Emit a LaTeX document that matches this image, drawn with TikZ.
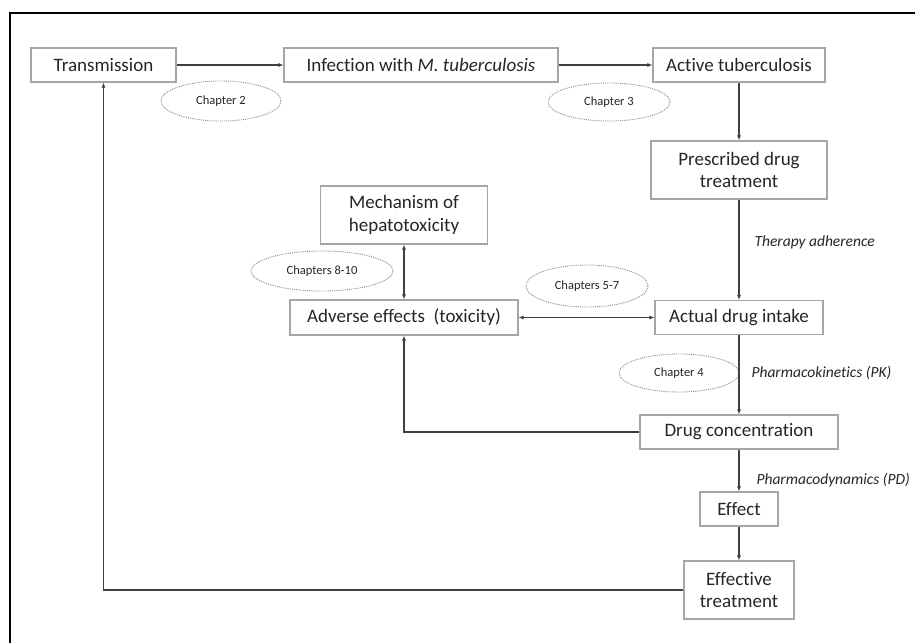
\documentclass[tikz,border=0pt]{standalone}
\usepackage{fontspec}
\setmainfont{Carlito}[Ligatures=NoCommon]
\usetikzlibrary{shapes.geometric,arrows.meta}
\definecolor{txt}{HTML}{262626}
\definecolor{boxline}{HTML}{A6A6A6}
\definecolor{conn}{HTML}{404040}
\definecolor{ellline}{HTML}{8C8C8C}
\tikzset{
  box/.style={draw=boxline, line width=1.1pt, fill=white, text=txt, align=center, inner sep=0pt,
    font=\fontsize{19}{22.5}\selectfont},
  chap/.style={draw=ellline, densely dotted, line width=0.9pt, ellipse, inner sep=0pt, text=txt,
    font=\fontsize{12.5}{14}\selectfont},
  lab/.style={anchor=west, text=txt, font=\fontsize{15.5}{18}\selectfont\itshape},
  arr/.style={draw=conn, line width=1.2pt, -{Latex[length=5pt,width=4pt]}},
  darr/.style={draw=conn, line width=1.2pt, {Latex[length=5pt,width=4pt]}-{Latex[length=5pt,width=4pt]}},
  ln/.style={draw=conn, line width=1.2pt}
}
\begin{document}
\begin{tikzpicture}[x=1pt,y=-1pt]
\useasboundingbox (0,0) rectangle (915,643);
\fill[white] (0,0) rectangle (915,643);
\draw[black, line width=1.2pt] (10,643) -- (10,13) -- (915,13);

% boxes
\node[box, minimum width=145pt, minimum height=34pt] (trans) at (103.5,65) {Transmission};
\node[box, minimum width=274pt, minimum height=34pt] (infect) at (421,65) {Infection with \textit{M. tuberculosis}};
\node[box, minimum width=172pt, minimum height=34pt] (active) at (739,65) {Active tuberculosis};
\node[box, minimum width=176pt, minimum height=58pt] (presc) at (739,170) {Prescribed drug\\treatment};
\node[box, minimum width=167pt, minimum height=58pt] (mech) at (404,215) {Mechanism of\\hepatotoxicity};
\node[box, minimum width=228pt, minimum height=35pt] (adverse) at (404,317.5) {Adverse effects\ \ (toxicity)};
\node[box, minimum width=168pt, minimum height=34pt] (actual) at (739,317.5) {Actual drug intake};
\node[box, minimum width=198pt, minimum height=34pt] (conc) at (739,432) {Drug concentration};
\node[box, minimum width=78pt, minimum height=34pt] (effect) at (739,509) {Effect};
\node[box, minimum width=110pt, minimum height=58pt] (efftreat) at (739,590) {Effective\\treatment};

% chapter ellipses
\node[chap, minimum width=120pt, minimum height=40pt] (ch2) at (221,101) {Chapter 2};
\node[chap, minimum width=122pt, minimum height=38pt] (ch3) at (609,102) {Chapter 3};
\node[chap, minimum width=142pt, minimum height=40pt] (ch810) at (322,271) {Chapters 8-10};
\node[chap, minimum width=122pt, minimum height=42pt] (ch57) at (587,286) {Chapters 5-7};
\node[chap, minimum width=120pt, minimum height=38pt] (ch4) at (679,373) {Chapter 4};

% italic labels
\node[lab] (tadh) at (751,242) {Therapy adherence};
\node[lab] (pk) at (748,373) {Pharmacokinetics (PK)};
\node[lab] (pd) at (753,480) {Pharmacodynamics (PD)};

% connectors
\draw[arr] (trans.east) -- (infect.west);
\draw[arr] (infect.east) -- (active.west);
\draw[arr] (active.south) -- (presc.north);
\draw[arr] (presc.south) -- (actual.north);
\draw[darr] (mech.south) -- (adverse.north);
\draw[darr] (adverse.east) -- (actual.west);
\draw[arr] (actual.south) -- (conc.north);
\draw[arr] (conc.west) -| (adverse.south);
\draw[arr] (conc.south) -- (effect.north);
\draw[arr] (effect.south) -- (efftreat.north);
\draw[arr] (efftreat.west) -| (trans.south);
\end{tikzpicture}
\end{document}
